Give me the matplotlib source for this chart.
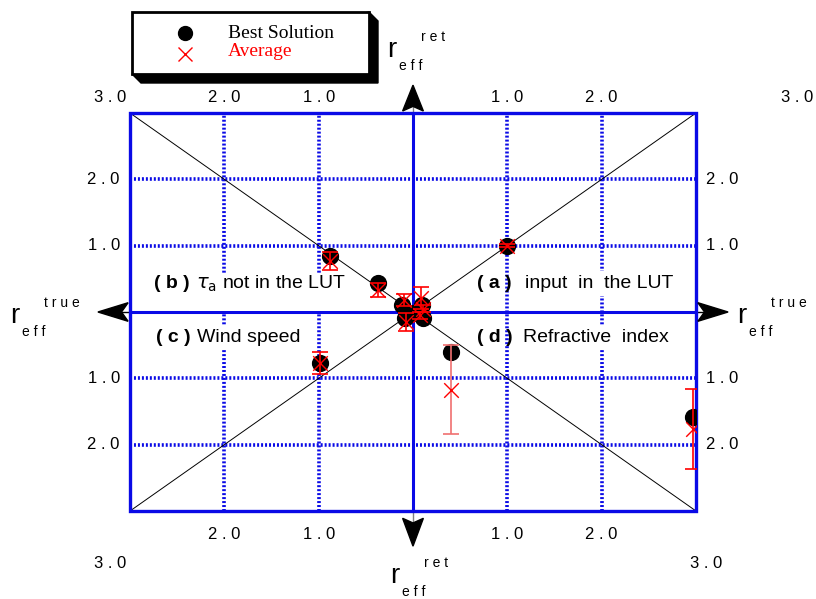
import matplotlib.pyplot as plt
from matplotlib.patches import Polygon, Rectangle

plt.rcParams['font.family'] = ['Liberation Sans', 'DejaVu Sans']

# best solution: x = r_eff true, y = r_eff retrieved (sign = quadrant)
best_x = [1.00, 0.10, 0.11, -0.88, -0.37, -0.12, -0.08, 0.00, -0.99, 0.40, 2.97]
best_y = [1.00, 0.11, -0.09, 0.85, 0.44, 0.11, -0.09, -0.02, -0.77, -0.60, -1.58]

# average of retrievals with spread
avg_x = [1.00, -0.88, -0.37, -0.10, 0.08, 0.07, -0.07, 0.11, -0.99, 0.40, 2.97]
avg_y = [1.00, 0.77, 0.33, 0.18, 0.21, -0.05, -0.15, 0.05, -0.77, -1.17, -1.76]
avg_err = [0.02, 0.14, 0.10, 0.09, 0.17, 0.05, 0.14, 0.05, 0.17, 0.67, 0.60]
err_col = ['red'] * 9 + ['#f07070', 'red']

tick_vals = [1.0, 2.0]
blue = '#0a0ae6'

W, H = 816, 599
fig = plt.figure(figsize=(W / 100, H / 100), dpi=100)
ax = fig.add_axes([130 / W, 1 - 511 / H, 566 / W, 398 / H])
ax.set_xlim(-3, 3)
ax.set_ylim(-3, 3)
ax.axis('off')


def fpx(x, y):
    return x / W, 1 - y / H


# frame, grid, centre lines, diagonals
ax.add_patch(Rectangle((-3, -3), 6, 6, fill=False, ec=blue, lw=2.4, zorder=3, clip_on=False))
for v in tick_vals:
    for s in (-1, 1):
        ax.axvline(s * v, color=blue, lw=2.6, ls=(0, (0.55, 0.55)), zorder=1)
        ax.axhline(s * v, color=blue, lw=2.6, ls=(0, (0.55, 0.55)), zorder=1)
ax.axvline(0, color=blue, lw=2.2, zorder=1)
ax.axhline(0, color=blue, lw=2.2, zorder=1)
ax.plot([-3, 3], [-3, 3], color='black', lw=0.7, zorder=1)
ax.plot([-3, 3], [3, -3], color='black', lw=0.7, zorder=1)

# data
ax.scatter(best_x, best_y, s=130, color='black', zorder=4)
for x, y, e, c in zip(avg_x, avg_y, avg_err, err_col):
    ax.errorbar(x, y, yerr=e, fmt='none', ecolor=c, elinewidth=1.2, capsize=6, capthick=1.2, zorder=5)
ax.scatter(avg_x, avg_y, s=110, marker='x', color='red', linewidths=1.0, zorder=6)

# quadrant labels
qfs = 14
ax.add_patch(Rectangle((-2.37, 0.012), 1.68, 0.57, facecolor='white', edgecolor='none', zorder=2))
ax.text(-2.75, 0.43, '( b )', fontsize=qfs, fontweight='bold', va='center', zorder=3)
ax.text(-2.30, 0.43, r'$\tau_{\rm a}$ not in the LUT', fontsize=qfs, va='center', zorder=3)
ax.text(-2.72, -0.38, '( c )', fontsize=qfs, fontweight='bold', va='center', zorder=3)
ax.text(-2.29, -0.38, 'Wind speed', fontsize=qfs, va='center', zorder=3,
        bbox=dict(facecolor='white', edgecolor='none', pad=3))
ax.text(0.68, 0.43, '( a )', fontsize=qfs, fontweight='bold', va='center', zorder=3)
ax.text(1.19, 0.43, 'input  in  the LUT', fontsize=qfs, va='center', zorder=3,
        bbox=dict(facecolor='white', edgecolor='none', pad=3))
ax.text(0.68, -0.38, '( d )', fontsize=qfs, fontweight='bold', va='center', zorder=3)
ax.text(1.17, -0.38, 'Refractive  index', fontsize=qfs, va='center', zorder=3,
        bbox=dict(facecolor='white', edgecolor='none', pad=3))

# tick labels around the frame
tfs = 12
xt = ax.get_xaxis_transform()
for v in tick_vals:
    lab = ' . '.join(f'{v:.1f}'.split('.'))
    for s in (-1, 1):
        ax.text(s * v, 1.04, lab, transform=xt, fontsize=tfs, ha='center', va='center')
        ax.text(s * v, -0.06, lab, transform=xt, fontsize=tfs, ha='center', va='center')
        ax.text(-0.018, 0.5 + s * v / 6, lab, transform=ax.transAxes, fontsize=tfs, ha='right', va='center')
        ax.text(1.018, 0.5 + s * v / 6, lab, transform=ax.transAxes, fontsize=tfs, ha='left', va='center')
lab3 = '3 . 0'
for x, y in [(110, 97), (797, 97), (110, 563), (706, 563)]:
    fig.text(*fpx(x, y), lab3, fontsize=tfs, ha='center', va='center')

# arrows on the centre lines
arrows = [
    [(0, 3.42), (-0.11, 3.03), (0, 3.10), (0.11, 3.03)],
    [(0, -3.53), (-0.11, -3.11), (0, -3.18), (0.11, -3.11)],
    [(-3.34, 0), (-3.02, 0.14), (-3.09, 0), (-3.02, -0.14)],
    [(3.34, 0), (3.02, 0.14), (3.09, 0), (3.02, -0.14)],
]
for pts in arrows:
    ax.add_patch(Polygon(pts, closed=True, color='black', clip_on=False, zorder=6))
ax.plot([0, 0], [3.0, 3.1], color='grey', lw=1, clip_on=False)
ax.plot([0, 0], [-3.0, -3.15], color='grey', lw=1, clip_on=False)
ax.plot([-3.1, -3.0], [0, 0], color='black', lw=1, clip_on=False)
ax.plot([3.0, 3.1], [0, 0], color='black', lw=1, clip_on=False)


# axis names
def axis_name(x, y, sup):
    fig.text(*fpx(x, y), 'r', fontsize=20, ha='left', va='baseline')
    fig.text(*fpx(x + 12, y + 9), 'e f f', fontsize=10, ha='left', va='center')
    fig.text(*fpx(x + 34, y - 20), sup, fontsize=10, ha='left', va='center')


axis_name(387, 57, 'r e t')
axis_name(390, 583, 'r e t')
axis_name(10, 323, 't r u e')
axis_name(737, 323, 't r u e')

# legend box with 3-d shadow
shadow = Polygon([fpx(369, 12), fpx(378, 21), fpx(378, 83), fpx(141, 83), fpx(132, 74)],
                 closed=True, color='black', transform=fig.transFigure)
fig.patches.append(shadow)
x0, y0 = fpx(132, 74)
x1, y1 = fpx(369, 12)
face = Rectangle((x0, y0), x1 - x0, y1 - y0, facecolor='white', edgecolor='black', lw=2,
                 transform=fig.transFigure)
fig.patches.append(face)
fig.lines.append(plt.Line2D([185 / W], [1 - 33 / H], marker='o', ms=10, color='black',
                            transform=fig.transFigure))
fig.lines.append(plt.Line2D([185 / W], [1 - 54 / H], marker='x', ms=10, mew=1, color='red',
                            transform=fig.transFigure))
fig.text(*fpx(228, 33), 'Best Solution', family='Liberation Serif', fontsize=14, va='center')
fig.text(*fpx(228, 52), 'Average', family='Liberation Serif', fontsize=14, va='center', color='red')

fig.savefig('out.png', dpi=100)
